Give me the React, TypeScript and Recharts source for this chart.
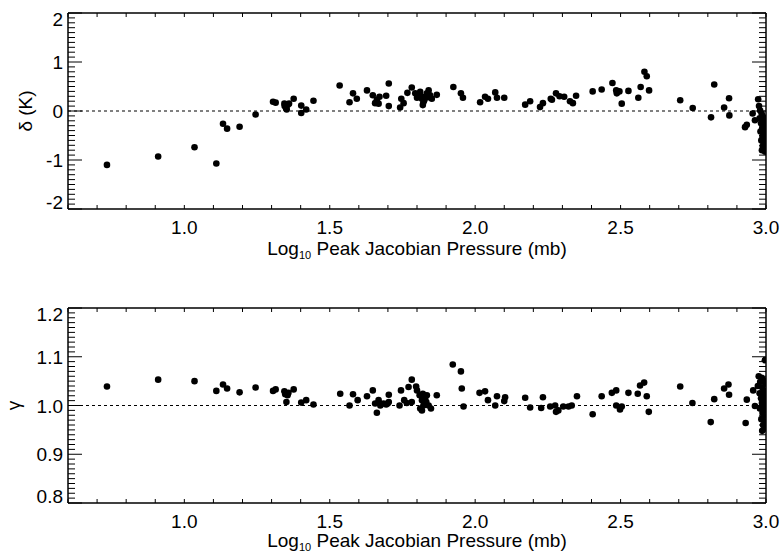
import React from "react";
import { ScatterChart, Scatter, XAxis, YAxis, ReferenceLine } from "recharts";

const FONT = '"Liberation Sans", Arial, Helvetica, sans-serif';

// [log10 peak jacobian pressure, delta (K)]
const deltaPoints: [number, number][] = [
  [0.734, -1.1], [0.91, -0.93], [1.035, -0.74], [1.11, -1.07], [1.133, -0.26], [1.147, -0.36],
  [1.19, -0.32], [1.245, -0.07], [1.305, 0.19], [1.314, 0.17], [1.344, 0.15], [1.345, 0.1],
  [1.35, 0.05], [1.355, 0.12], [1.36, 0.15], [1.352, 0.03], [1.376, 0.25], [1.402, 0.11],
  [1.402, -0.04], [1.419, 0.03], [1.444, 0.21],
  [1.534, 0.52], [1.568, 0.18], [1.58, 0.36], [1.593, 0.25], [1.628, 0.42], [1.648, 0.32],
  [1.656, 0.16], [1.668, 0.15], [1.662, 0.23], [1.671, 0.29], [1.694, 0.31], [1.703, 0.56],
  [1.703, 0.1], [1.742, 0.07], [1.746, 0.25], [1.754, 0.16], [1.767, 0.37], [1.782, 0.48],
  [1.794, 0.36], [1.8, 0.27], [1.806, 0.32], [1.811, 0.39], [1.812, 0.3], [1.817, 0.25],
  [1.822, 0.18], [1.82, 0.12], [1.825, 0.22], [1.828, 0.29], [1.834, 0.36], [1.838, 0.28],
  [1.84, 0.42], [1.845, 0.32], [1.851, 0.25], [1.868, 0.33],
  [1.925, 0.49], [1.951, 0.36], [1.958, 0.27], [2.017, 0.18], [2.034, 0.29], [2.044, 0.25],
  [2.069, 0.38], [2.075, 0.27], [2.1, 0.27], [2.172, 0.13], [2.189, 0.2], [2.223, 0.08],
  [2.233, 0.16], [2.26, 0.25], [2.264, 0.23], [2.278, 0.36], [2.29, 0.3], [2.306, 0.29],
  [2.326, 0.2], [2.336, 0.16], [2.347, 0.31], [2.404, 0.4], [2.435, 0.44], [2.472, 0.57],
  [2.485, 0.42], [2.496, 0.4], [2.487, 0.36], [2.504, 0.15], [2.527, 0.41], [2.561, 0.27],
  [2.569, 0.49], [2.582, 0.8], [2.59, 0.71], [2.598, 0.42],
  [2.705, 0.22], [2.748, 0.06], [2.811, -0.13], [2.822, 0.54], [2.856, 0.07], [2.873, 0.26],
  [2.874, -0.09], [2.928, -0.33], [2.934, -0.28], [2.954, -0.05], [2.962, -0.19],
  [2.973, 0.24], [2.976, 0.1], [2.98, 0.01], [2.985, -0.05], [2.99, -0.12], [2.978, -0.15],
  [2.995, -0.2], [2.983, -0.25], [2.992, -0.3], [2.987, -0.35], [2.997, -0.4], [2.981, -0.42],
  [2.993, -0.47], [2.988, -0.52], [2.996, -0.56], [2.984, -0.6], [2.991, -0.64], [2.998, -0.68],
  [2.989, -0.72], [2.994, -0.77], [2.986, -0.8], [2.997, -0.83],
];

// [log10 peak jacobian pressure, gamma]
const gammaPoints: [number, number][] = [
  [0.734, 1.039], [0.91, 1.053], [1.035, 1.05], [1.11, 1.03], [1.133, 1.043], [1.147, 1.035],
  [1.19, 1.027], [1.245, 1.037], [1.305, 1.03], [1.314, 1.033], [1.344, 1.029], [1.347, 1.023],
  [1.355, 1.021], [1.358, 1.026], [1.351, 1.007], [1.376, 1.033], [1.402, 1.006], [1.419, 1.011],
  [1.444, 1.002], [1.536, 1.024], [1.568, 1.0], [1.58, 1.023], [1.596, 1.011], [1.628, 1.019],
  [1.648, 1.031], [1.662, 0.985], [1.668, 1.011], [1.656, 1.004], [1.674, 1.0], [1.703, 1.022],
  [1.694, 1.002], [1.703, 1.007], [1.685, 1.004], [1.699, 1.004],
  [1.74, 1.0], [1.745, 1.031], [1.756, 1.011], [1.765, 1.005], [1.771, 1.038], [1.782, 1.053],
  [1.782, 1.007], [1.797, 1.039], [1.8, 1.031], [1.809, 1.021], [1.817, 1.011], [1.811, 0.994],
  [1.82, 1.024], [1.822, 1.0], [1.828, 1.014], [1.832, 1.007], [1.834, 1.021], [1.84, 1.0],
  [1.848, 0.994], [1.817, 0.99], [1.868, 1.021],
  [1.923, 1.084], [1.951, 1.07], [1.954, 1.035], [1.96, 0.998], [2.015, 1.026], [2.034, 1.029],
  [2.044, 1.011], [2.069, 1.0], [2.075, 1.019], [2.1, 1.009], [2.103, 1.017], [2.172, 1.016],
  [2.189, 0.996], [2.227, 0.995], [2.233, 1.017], [2.258, 0.998], [2.275, 1.0], [2.278, 0.987],
  [2.286, 0.99], [2.303, 0.998], [2.321, 0.998], [2.332, 1.0], [2.35, 1.019], [2.404, 0.982],
  [2.435, 1.019], [2.47, 1.026], [2.485, 1.031], [2.485, 1.0], [2.498, 0.992], [2.504, 0.998],
  [2.527, 1.026], [2.559, 1.024], [2.567, 1.041], [2.581, 1.047], [2.59, 1.019], [2.597, 0.987],
  [2.705, 1.039], [2.747, 1.005], [2.81, 0.966], [2.822, 1.013], [2.856, 1.035], [2.871, 1.043],
  [2.873, 1.022], [2.93, 0.964], [2.934, 1.012], [2.956, 1.031], [2.962, 0.999],
  [2.996, 1.093], [2.975, 1.06], [2.985, 1.057], [2.992, 1.052], [2.98, 1.048], [2.997, 1.045],
  [2.972, 1.04], [2.988, 1.036], [2.994, 1.03], [2.978, 1.025], [2.99, 1.02], [2.983, 1.015],
  [2.998, 1.01], [2.986, 1.005], [2.993, 0.998], [2.979, 0.994], [2.996, 0.99], [2.988, 0.985],
  [2.992, 0.978], [2.984, 0.972], [2.997, 0.966], [2.99, 0.96], [2.995, 0.953], [2.987, 0.948],
];

const xMajor = [1.0, 1.5, 2.0, 2.5, 3.0];
const deltaMajor = [-2, -1, 0, 1, 2];
const gammaMajor = [0.8, 0.9, 1.0, 1.1, 1.2];

// minor tick positions along each axis
function steps(lo: number, hi: number, step: number) {
  const out: number[] = [];
  const n = Math.round((hi - lo) / step);
  for (let i = 0; i <= n; i++) out.push(+(lo + i * step).toFixed(4));
  return out;
}
const xTicks = steps(0.6, 3.0, 0.1);
const deltaTicks = steps(-2, 2, 0.1);
const gammaTicks = steps(0.8, 1.2, 0.01);

const isMajor = (v: number, majors: number[]) => majors.some((m) => Math.abs(m - v) < 1e-6);

const deltaData = deltaPoints.map(([x, y]) => ({ x, y }));
const gammaData = gammaPoints.map(([x, y]) => ({ x, y }));

const bottomTick = (props: any) => {
  const { x, y, payload } = props;
  const v = payload.value;
  return (
    <g>
      <line x1={x} x2={x} y1={y} y2={y - 4} stroke="#000" />
      {isMajor(v, xMajor) && (
        <text x={x} y={y + 25} textAnchor="middle" fontSize={19} fontFamily={FONT} fill="#000">
          {v.toFixed(1)}
        </text>
      )}
    </g>
  );
};

// top axis sits 1px above the box (height 1), so ticks start 1px lower
const topTick = (props: any) => {
  const { x, y } = props;
  return <line x1={x} x2={x} y1={y} y2={y + 4} stroke="#000" />;
};

const leftTick = (majors: number[], digits: number) => (props: any) => {
  const { x, y, payload } = props;
  const v = payload.value;
  const major = isMajor(v, majors);
  const lo = majors[0];
  const hi = majors[majors.length - 1];
  // IDL keeps the end labels inside the box
  let base = y + 7;
  if (Math.abs(v - hi) < 1e-6) base = y + 13;
  if (Math.abs(v - lo) < 1e-6) base = y;
  return (
    <g>
      <line x1={x} x2={x + (major ? 14 : 7)} y1={y} y2={y} stroke="#000" />
      {major && (
        <text x={x - 5} y={base} textAnchor="end" fontSize={19} fontFamily={FONT} fill="#000">
          {v.toFixed(digits)}
        </text>
      )}
    </g>
  );
};

const rightTick = (majors: number[]) => (props: any) => {
  const { x, y, payload } = props;
  const major = isMajor(payload.value, majors);
  return <line x1={x} x2={x - (major ? 14 : 7)} y1={y} y2={y} stroke="#000" />;
};

const xTitle = (dy: number) => (props: any) => {
  const vb = props.viewBox || {};
  const cx = (vb.x ?? 68) + (vb.width ?? 698) / 2;
  const y = (vb.y ?? 0) + dy;
  return (
    <text x={cx} y={y} textAnchor="middle" fontSize={19} fontFamily={FONT} fill="#000">
      <tspan>Log</tspan>
      <tspan fontSize={11} dy={4}>10</tspan>
      <tspan dy={-4}> Peak Jacobian Pressure (mb)</tspan>
    </text>
  );
};

const yTitle = (label: string, bx: number) => (props: any) => {
  const vb = props.viewBox || {};
  const cy = (vb.y ?? 0) + (vb.height ?? 0) / 2;
  return (
    <text
      transform={`translate(${bx},${cy}) rotate(-90)`}
      x={0}
      y={0}
      textAnchor="middle"
      fontSize={19}
      fontFamily={FONT}
      fill="#000"
    >
      {label}
    </text>
  );
};

const dot = (p: any) => <circle cx={p.cx} cy={p.cy} r={3.3} fill="#000" />;

const axisStroke = { stroke: "#000", strokeWidth: 1.5 };

interface PanelProps {
  data: { x: number; y: number }[];
  yDomain: [number, number];
  yTicks: number[];
  yMajor: number[];
  digits: number;
  refY: number;
  marginTop: number;
  axisHeight: number;
  titleDy: number;
  label: string;
  labelX: number;
}

function Panel({ data, yDomain, yTicks, yMajor, digits, refY, marginTop, axisHeight, titleDy, label, labelX }: PanelProps) {
  return (
    <ScatterChart width={780} height={277} margin={{ top: marginTop - 1, right: 13, bottom: 0, left: 0 }}>
      <XAxis
        xAxisId="top"
        orientation="top"
        type="number"
        dataKey="x"
        domain={[0.6, 3.0]}
        ticks={xTicks}
        interval={0}
        height={1}
        tickSize={0}
        tickMargin={0}
        tickLine={false}
        axisLine={axisStroke}
        tick={topTick}
        allowDataOverflow
      />
      <XAxis
        xAxisId={0}
        type="number"
        dataKey="x"
        domain={[0.6, 3.0]}
        ticks={xTicks}
        interval={0}
        height={axisHeight}
        tickSize={0}
        tickMargin={0}
        tickLine={false}
        axisLine={axisStroke}
        tick={bottomTick}
        label={xTitle(titleDy)}
        allowDataOverflow
      />
      <YAxis
        yAxisId={0}
        type="number"
        dataKey="y"
        domain={yDomain}
        ticks={yTicks}
        interval={0}
        width={68}
        tickSize={0}
        tickMargin={0}
        tickLine={false}
        axisLine={axisStroke}
        tick={leftTick(yMajor, digits)}
        label={yTitle(label, labelX)}
        allowDataOverflow
      />
      <YAxis
        yAxisId="right"
        orientation="right"
        type="number"
        dataKey="y"
        domain={yDomain}
        ticks={yTicks}
        interval={0}
        width={1}
        tickSize={0}
        tickMargin={0}
        tickLine={false}
        axisLine={axisStroke}
        tick={rightTick(yMajor)}
        allowDataOverflow
      />
      <ReferenceLine y={refY} stroke="#000" strokeWidth={1} strokeDasharray="3 3" />
      <Scatter data={data} fill="#000" shape={dot} isAnimationActive={false} />
    </ScatterChart>
  );
}

export default function App() {
  return (
    <div style={{ position: "absolute", left: 0, top: 0, width: 780, height: 554, background: "#fff" }}>
      <Panel
        data={deltaData}
        yDomain={[-2, 2]}
        yTicks={deltaTicks}
        yMajor={deltaMajor}
        digits={0}
        refY={0}
        marginTop={13}
        axisHeight={68}
        titleDy={45.5}
        label="δ (K)"
        labelX={32}
      />
      <Panel
        data={gammaData}
        yDomain={[0.8, 1.2]}
        yTicks={gammaTicks}
        yMajor={gammaMajor}
        digits={1}
        refY={1.0}
        marginTop={31}
        axisHeight={51}
        titleDy={44}
        label="γ"
        labelX={20}
      />
    </div>
  );
}
